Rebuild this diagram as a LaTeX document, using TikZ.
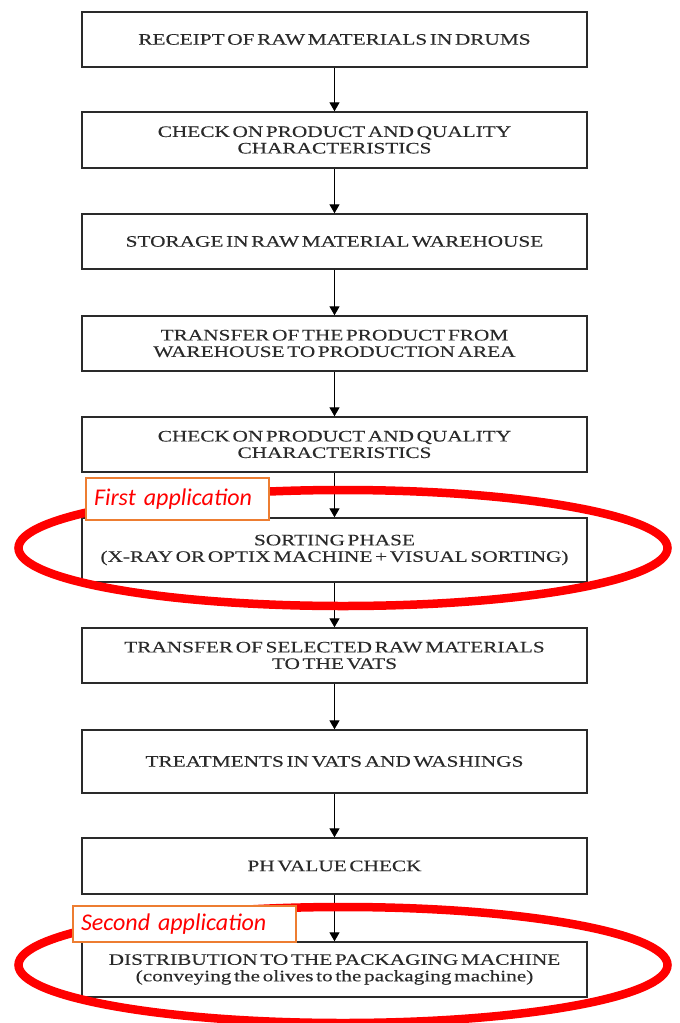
\documentclass[tikz,border=0pt]{standalone}
\usepackage{fontspec}
\newfontfamily\stepfont[FakeStretch=1.33,WordSpace=0.5,FakeBold=0.2]{Liberation Serif}
\newfontfamily\notefont{Carlito}
\usetikzlibrary{arrows.meta}
\definecolor{ink}{HTML}{2A2A2A}
\definecolor{mark}{HTML}{FF0000}
\definecolor{tag}{HTML}{ED7D31}

\begin{document}
\begin{tikzpicture}[x=1pt,y=-1pt,
  stepbox/.style={draw=ink, line width=1.4pt, minimum width=505pt,
    text=ink, font=\stepfont\fontsize{16}{16.5}\selectfont,
    align=center, inner sep=0pt},
  flow/.style={-{Triangle[length=9pt,width=10pt]}, line width=1.3pt, draw=black},
  ring/.style={draw=mark, line width=8.5pt},
  tagbox/.style={draw=tag, line width=2pt, fill=white, text=mark,
    font=\notefont\itshape\fontsize{24}{26}\selectfont,
    inner ysep=0pt, inner xsep=8pt, align=left, anchor=north west}]

\useasboundingbox (0,0) rectangle (680,1023);

% process steps
\node[stepbox, minimum height=55pt] (s1)  at (334.5,39.5)  {RECEIPT OF RAW MATERIALS IN DRUMS};
\node[stepbox, minimum height=56pt] (s2)  at (334.5,140)   {CHECK ON PRODUCT AND QUALITY\\CHARACTERISTICS};
\node[stepbox, minimum height=55pt] (s3)  at (334.5,241.5) {STORAGE IN RAW MATERIAL WAREHOUSE};
\node[stepbox, minimum height=55pt] (s4)  at (334.5,343.5) {TRANSFER OF THE PRODUCT FROM\\WAREHOUSE TO PRODUCTION AREA};
\node[stepbox, minimum height=55pt] (s5)  at (334.5,444.5) {CHECK ON PRODUCT AND QUALITY\\CHARACTERISTICS};
\node[stepbox, minimum height=64pt] (s6)  at (334.5,550)   {SORTING PHASE\\(X-RAY OR OPTIX MACHINE + VISUAL SORTING)};
\node[stepbox, minimum height=55pt] (s7)  at (334.5,655.5) {TRANSFER OF SELECTED RAW MATERIALS\\TO THE VATS};
\node[stepbox, minimum height=63pt] (s8)  at (334.5,761.5) {TREATMENTS IN VATS AND WASHINGS};
\node[stepbox, minimum height=56pt] (s9)  at (334.5,866)   {PH VALUE CHECK};
\node[stepbox, minimum height=55pt] (s10) at (334.5,969.5) {DISTRIBUTION TO THE PACKAGING MACHINE\\(conveying the olives to the packaging machine)};

% arrows between steps
\foreach \a/\b in {s1/s2,s2/s3,s3/s4,s4/s5,s5/s6,s6/s7,s7/s8,s8/s9,s9/s10}
  \draw[flow] (\a.south) -- (\b.north);

% highlighted application points
\draw[ring] (343,548) ellipse [x radius=324.5, y radius=58];
\draw[ring] (343,965) ellipse [x radius=324.5, y radius=58];

\node[tagbox, text width=167pt, minimum height=42pt] (t1) at (85,477) {First application};
\node[tagbox, text width=207pt, minimum height=36pt] (t2) at (72,905) {Second application};
\end{tikzpicture}
\end{document}
